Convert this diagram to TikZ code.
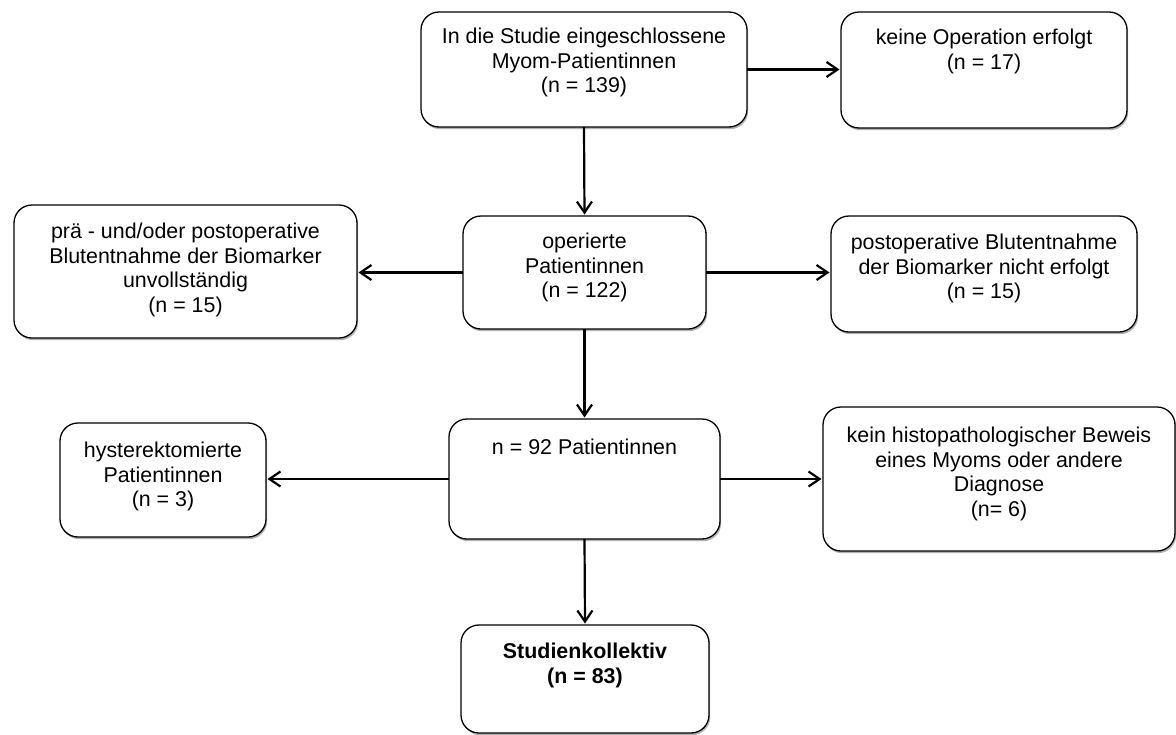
\documentclass[tikz,border=0pt]{standalone}
\usepackage{fontspec}
\setmainfont{Liberation Sans}
\usetikzlibrary{arrows.meta,shadows,calc}
\begin{document}
\begin{tikzpicture}[x=1pt,y=-1pt,
  box/.style={draw=black, line width=1.3pt, rounded corners=18pt, fill=white,
    inner sep=0pt, outer sep=0pt,
    drop shadow={shadow xshift=1.2pt, shadow yshift=-2.2pt, fill=black, opacity=0.3}},
  txt/.style={inner sep=0pt, align=center, anchor=north,
    font=\fontsize{21.4}{24.5}\selectfont},
  arr/.style={line width=2.2pt, -{Straight Barb[length=11pt,width=15pt]}, shorten >=1.5pt}]
\useasboundingbox (0,0) rectangle (1176,734);
% boxes
\node[box, minimum width=326pt, minimum height=115pt] (b1) at (584,69.5) {};
\node[box, minimum width=286pt, minimum height=116pt] (b2) at (984,70) {};
\node[box, minimum width=343pt, minimum height=133pt] (b3) at (185.5,271.5) {};
\node[box, minimum width=243pt, minimum height=113pt] (b4) at (584.5,272.5) {};
\node[box, minimum width=306pt, minimum height=116pt] (b5) at (984,274) {};
\node[box, minimum width=206pt, minimum height=114pt] (b6) at (163,480) {};
\node[box, minimum width=271pt, minimum height=120pt] (b7) at (584.5,479) {};
\node[box, minimum width=352pt, minimum height=144pt] (b8) at (999,479) {};
\node[box, minimum width=248pt, minimum height=108pt] (b9) at (585,679) {};
% texts
\node[txt] (t1) at ([yshift=-16pt]b1.north) {In die Studie eingeschlossene\\Myom-Patientinnen\\(n = 139)};
\node[txt] (t2) at ([yshift=-17pt]b2.north) {keine Operation erfolgt\\(n = 17)};
\node[txt] (t3) at ([yshift=-18pt]b3.north) {prä - und/oder postoperative\\Blutentnahme der Biomarker\\unvollständig\\(n = 15)};
\node[txt] (t4) at ([yshift=-17pt]b4.north) {operierte\\Patientinnen\\(n = 122)};
\node[txt] (t5) at ([yshift=-18pt]b5.north) {postoperative Blutentnahme\\der Biomarker nicht erfolgt\\(n = 15)};
\node[txt] (t6) at ([yshift=-19pt]b6.north) {hysterektomierte\\Patientinnen\\(n = 3)};
\node[txt] (t7) at ([yshift=-20pt]b7.north) {n = 92 Patientinnen};
\node[txt] (t8) at ([yshift=-20pt]b8.north) {kein histopathologischer Beweis\\eines Myoms oder andere\\Diagnose\\(n= 6)};
\node[txt, font=\fontsize{21.4}{24.5}\selectfont\bfseries] (t9) at ([yshift=-18pt]b9.north) {Studienkollektiv\\(n = 83)};
% connectors
\draw[arr] (b1.south) -- (b4.north);
\draw[arr] (b4.south) -- (b7.north);
\draw[arr] (b7.south) -- (b9.north);
\draw[arr] (b1.east) -- (b1.east -| b2.west);
\draw[arr] (b4.west) -- (b4.west -| b3.east);
\draw[arr] (b4.east) -- (b4.east -| b5.west);
\draw[arr] (b7.west) -- (b7.west -| b6.east);
\draw[arr] (b7.east) -- (b7.east -| b8.west);
\end{tikzpicture}
\end{document}
